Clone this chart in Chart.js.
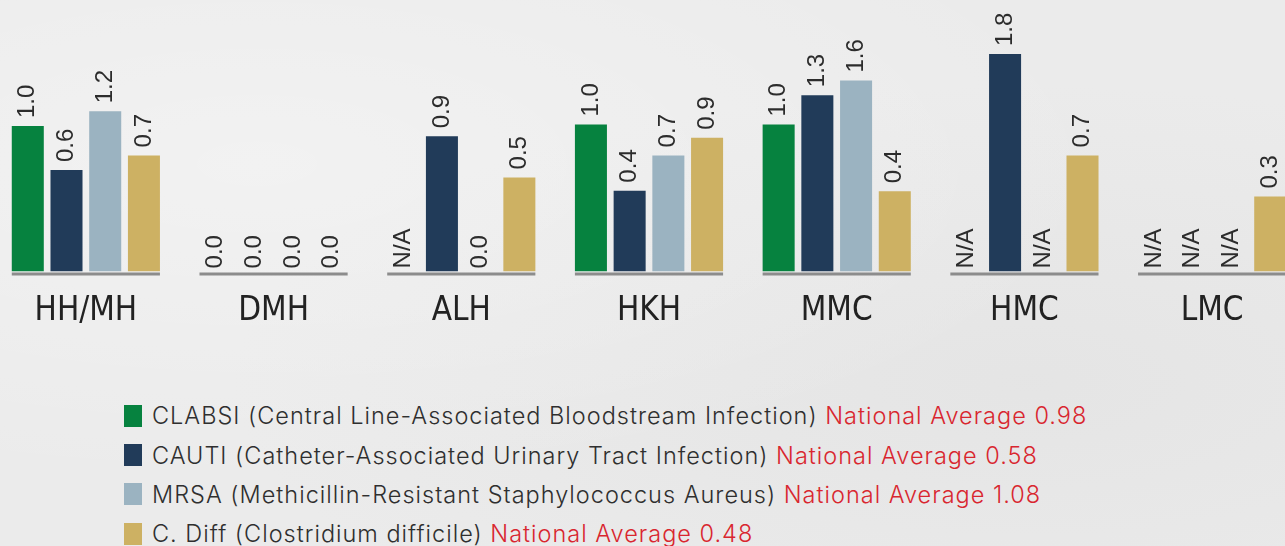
<!DOCTYPE html>
<html>
<head>
<meta charset="utf-8">
<script src="https://cdn.jsdelivr.net/npm/chart.js@4.4.0/dist/chart.umd.min.js"></script>
<style>
    html, body { margin: 0; padding: 0; }
    body {
        width: 1285px; height: 546px; overflow: hidden; position: relative;
        background-color: #ebebeb;
        background-image:
            radial-gradient(ellipse at 20% 30%, rgba(255,255,255,0.35), rgba(255,255,255,0) 60%),
            radial-gradient(ellipse at 80% 70%, rgba(210,210,210,0.25), rgba(210,210,210,0) 55%);
        font-family: 'Liberation Sans', Arial, sans-serif;
    }
    #chart-wrap { position: absolute; left: -8px; top: 0; width: 1314px; height: 351px; }
    #legend { position: absolute; left: 124px; top: 396px; }
    .row { display: flex; align-items: center; height: 39.4px; font-family: Inter, 'Liberation Sans', sans-serif; font-weight: 300; font-size: 23.5px; letter-spacing: 1px; color: #2f2f2f; white-space: nowrap; }
    .sw { width: 18px; height: 22px; margin-right: 10px; flex: none; }
    .avg { color: #d9262f; }
</style>
</head>
<body>
<div id="chart-wrap"><canvas id="infChart"></canvas></div>
<div id="legend"></div>

<script>
const hospitals = ['HH/MH', 'DMH', 'ALH', 'HKH', 'MMC', 'HMC', 'LMC'];

// printed values (null = N/A)
const clabsiVals = [1.0, 0.0, null, 1.0, 1.0, null, null];
const cautiVals  = [0.6, 0.0, 0.9, 0.4, 1.3, 1.8, null];
const mrsaVals   = [1.2, 0.0, 0.0, 0.7, 1.6, null, null];
const cdiffVals  = [0.7, 0.0, 0.5, 0.9, 0.4, 0.7, 0.3];

// bar heights as drawn in the graphic (not to scale with printed values)
const clabsiBars = [0.99, 0, null, 1.0, 1.0, null, null];
const cautiBars  = [0.69, 0, 0.92, 0.55, 1.2, 1.48, null];
const mrsaBars   = [1.09, 0, 0, 0.79, 1.3, null, null];
const cdiffBars  = [0.79, 0, 0.64, 0.91, 0.545, 0.79, 0.51];

const seriesNames = ['CLABSI', 'CAUTI', 'MRSA', 'C. Diff'];
const seriesDesc = [
    'CLABSI (Central Line-Associated Bloodstream Infection)',
    'CAUTI (Catheter-Associated Urinary Tract Infection)',
    'MRSA (Methicillin-Resistant Staphylococcus Aureus)',
    'C. Diff (Clostridium difficile)'
];
const nationalAvg = ['0.98', '0.58', '1.08', '0.48'];
const colors = ['#06823f', '#213b59', '#9bb3c1', '#cdb163'];

const allVals = [clabsiVals, cautiVals, mrsaVals, cdiffVals];
const allBars = [clabsiBars, cautiBars, mrsaBars, cdiffBars];

// legend
const legend = document.getElementById('legend');
seriesDesc.forEach((d, i) => {
    const row = document.createElement('div');
    row.className = 'row';
    row.innerHTML = `<span class="sw" style="background:${colors[i]}"></span><span>${d} <span class="avg">National Average ${nationalAvg[i]}</span></span>`;
    legend.appendChild(row);
});

const groupLines = {
    id: 'groupLines',
    afterDatasetsDraw(chart) {
        const ctx = chart.ctx;
        const first = chart.getDatasetMeta(0);
        const last = chart.getDatasetMeta(allBars.length - 1);
        const y = chart.chartArea.bottom + 2.5;
        ctx.save();
        ctx.strokeStyle = '#8c8c8c';
        ctx.lineWidth = 3;
        hospitals.forEach((h, i) => {
            const a = first.data[i], b = last.data[i];
            ctx.beginPath();
            ctx.moveTo(a.x - a.width / 2, y);
            ctx.lineTo(b.x + b.width / 2, y);
            ctx.stroke();
        });
        ctx.restore();
    }
};

const valueLabels = {
    id: 'valueLabels',
    afterDatasetsDraw(chart) {
        const ctx = chart.ctx;
        const yScale = chart.scales.y;
        ctx.save();
        ctx.fillStyle = '#2c2c2c';
        ctx.font = "24px 'Liberation Sans', Arial, sans-serif";
        ctx.textAlign = 'left';
        ctx.textBaseline = 'middle';
        allVals.forEach((vals, d) => {
            const meta = chart.getDatasetMeta(d);
            vals.forEach((v, i) => {
                const h = allBars[d][i];
                const x = meta.data[i].x;
                const top = yScale.getPixelForValue(h || 0);
                const txt = v === null ? 'N/A' : v.toFixed(1);
                ctx.save();
                ctx.translate(x, top - (h ? 8 : 3));
                ctx.rotate(-Math.PI / 2);
                ctx.fillText(txt, 0, 0);
                ctx.restore();
            });
        });
        ctx.restore();
    }
};

new Chart(document.getElementById('infChart'), {
    type: 'bar',
    data: {
        labels: hospitals,
        datasets: allBars.map((bars, i) => ({
            label: seriesNames[i],
            data: bars,
            backgroundColor: colors[i],
            borderWidth: 0,
            categoryPercentage: 0.825,
            barPercentage: 0.827
        }))
    },
    options: {
        responsive: true,
        maintainAspectRatio: false,
        animation: false,
        layout: { padding: 0 },
        plugins: {
            legend: { display: false },
            tooltip: { enabled: false }
        },
        scales: {
            x: {
                grid: { display: false, drawTicks: false },
                border: { display: false },
                ticks: {
                    color: '#222',
                    padding: 20,
                    font: { family: "'DejaVu Sans Condensed', sans-serif", size: 33 }
                }
            },
            y: {
                display: false,
                min: 0,
                max: 1.848
            }
        }
    },
    plugins: [groupLines, valueLabels]
});
</script>
</body>
</html>
